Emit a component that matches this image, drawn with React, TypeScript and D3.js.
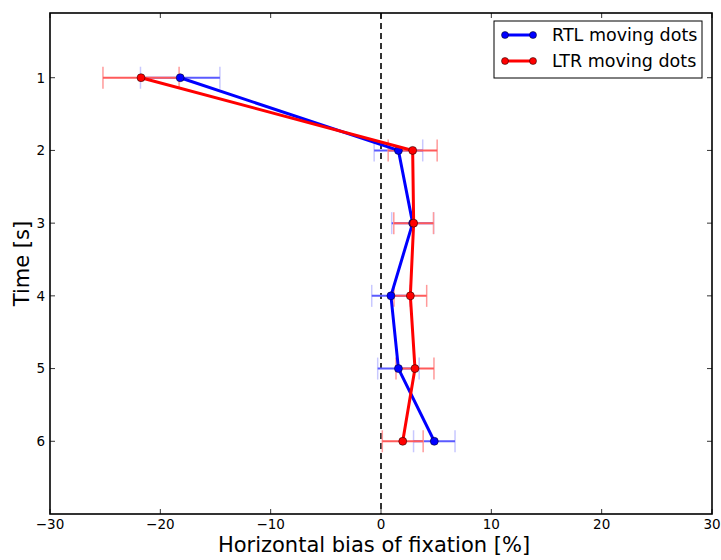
import React from "react";
import * as d3 from "d3";

const times = [1, 2, 3, 4, 5, 6];
const rtlMean = [-18.2, 1.58, 2.87, 0.9, 1.58, 4.83];
const rtlErr = [3.6, 2.2, 1.9, 1.74, 1.88, 1.88];
const ltrMean = [-21.75, 2.87, 2.96, 2.66, 3.08, 1.97];
const ltrErr = [3.45, 2.22, 1.8, 1.48, 1.72, 1.85];
const xTicks = [-30, -20, -10, 0, 10, 20, 30];
const yTicks = [1, 2, 3, 4, 5, 6];
const seriesNames = ["RTL moving dots", "LTR moving dots"];
const seriesColors = ["#0000ff", "#ff0000"];
const barColors = ["#5a5aff", "#ff5a5a"];
const capColors = ["#c8c8ff", "#ff9a9a"];

const W = 721;
const H = 560;
const L = 50, R = 712, T = 13, B = 514;
const FONT = "DejaVu Sans, sans-serif";

export default function App() {
  const x = d3.scaleLinear().domain([-30, 30]).range([L, R]);
  const y = d3.scaleLinear().domain([0.11, 7]).range([T, B]);
  const line = d3
    .line<[number, number]>()
    .x((d) => x(d[0]))
    .y((d) => y(d[1]));

  const series = [
    { name: seriesNames[0], color: seriesColors[0], bar: barColors[0], cap: capColors[0], mean: rtlMean, err: rtlErr },
    { name: seriesNames[1], color: seriesColors[1], bar: barColors[1], cap: capColors[1], mean: ltrMean, err: ltrErr },
  ];
  const tick = 5;
  const minus = (v: number) => (v < 0 ? "\u2212" + Math.abs(v) : String(v));

  return (
    <svg
      width={W}
      height={H}
      style={{ position: "absolute", left: 0, top: 0, background: "#fff" }}
      fontFamily={FONT}
    >
      <rect x={0} y={0} width={W} height={H} fill="#fff" />
      {/* zero dashed line */}
      <line
        x1={x(0)}
        x2={x(0)}
        y1={T}
        y2={B}
        stroke="#000"
        strokeWidth={1.6}
        strokeDasharray="6,4"
      />
      {series.map((s, si) => (
        <g key={"e" + si}>
          {times.map((t, i) => {
            const x0 = x(s.mean[i] - s.err[i]);
            const x1 = x(s.mean[i] + s.err[i]);
            const yy = y(t);
            return (
              <g key={i}>
                <line x1={x0} x2={x0} y1={yy - 11} y2={yy + 11} stroke={s.cap} strokeWidth={1.5} />
                <line x1={x1} x2={x1} y1={yy - 11} y2={yy + 11} stroke={s.cap} strokeWidth={1.5} />
                <line x1={x0} x2={x1} y1={yy} y2={yy} stroke={s.bar} strokeWidth={2} />
              </g>
            );
          })}
        </g>
      ))}
      {series.map((s, si) => (
        <g key={si}>
          <path
            d={line(times.map((t, i) => [s.mean[i], t] as [number, number])) || ""}
            fill="none"
            stroke={s.color}
            strokeWidth={3}
            strokeLinejoin="round"
          />
          {times.map((t, i) => (
            <circle key={i} cx={x(s.mean[i])} cy={y(t)} r={4} fill={s.color} stroke="#000" strokeWidth={0.5} />
          ))}
        </g>
      ))}
      {/* frame */}
      <rect x={L} y={T} width={R - L} height={B - T} fill="none" stroke="#000" strokeWidth={1.6} />
      {/* x ticks */}
      {xTicks.map((v) => (
        <g key={v}>
          <line x1={x(v)} x2={x(v)} y1={B} y2={B - tick} stroke="#000" strokeWidth={0.8} />
          <line x1={x(v)} x2={x(v)} y1={T} y2={T + tick} stroke="#000" strokeWidth={0.8} />
          <text x={x(v)} y={B + 15} textAnchor="middle" fontSize={13.5} fill="#000">
            {minus(v)}
          </text>
        </g>
      ))}
      {/* y ticks */}
      {yTicks.map((v) => (
        <g key={v}>
          <line x1={L} x2={L + tick} y1={y(v)} y2={y(v)} stroke="#000" strokeWidth={0.8} />
          <line x1={R} x2={R - tick} y1={y(v)} y2={y(v)} stroke="#000" strokeWidth={0.8} />
          <text x={L - 5} y={y(v)} dy="0.36em" textAnchor="end" fontSize={13.5} fill="#000">
            {v}
          </text>
        </g>
      ))}
      {/* axis labels */}
      <text x={(L + R) / 2 - 7} y={552} textAnchor="middle" fontSize={21} fill="#000">
        Horizontal bias of fixation [%]
      </text>
      <text
        transform={`translate(29,${(T + B) / 2}) rotate(-90)`}
        textAnchor="middle"
        fontSize={21}
        fill="#000"
      >
        Time [s]
      </text>
      {/* legend */}
      <rect x={494} y={21} width={208} height={57} fill="#fff" stroke="#000" strokeWidth={1} />
      {series.map((s, i) => {
        const yy = 35 + i * 26;
        return (
          <g key={i}>
            <line x1={505} x2={533} y1={yy} y2={yy} stroke={s.color} strokeWidth={3} />
            <circle cx={505} cy={yy} r={3.5} fill={s.color} stroke="#000" strokeWidth={0.5} />
            <circle cx={533} cy={yy} r={3.5} fill={s.color} stroke="#000" strokeWidth={0.5} />
            <text x={552} y={yy} dy="0.36em" fontSize={17.5} fill="#000">
              {s.name}
            </text>
          </g>
        );
      })}
    </svg>
  );
}
